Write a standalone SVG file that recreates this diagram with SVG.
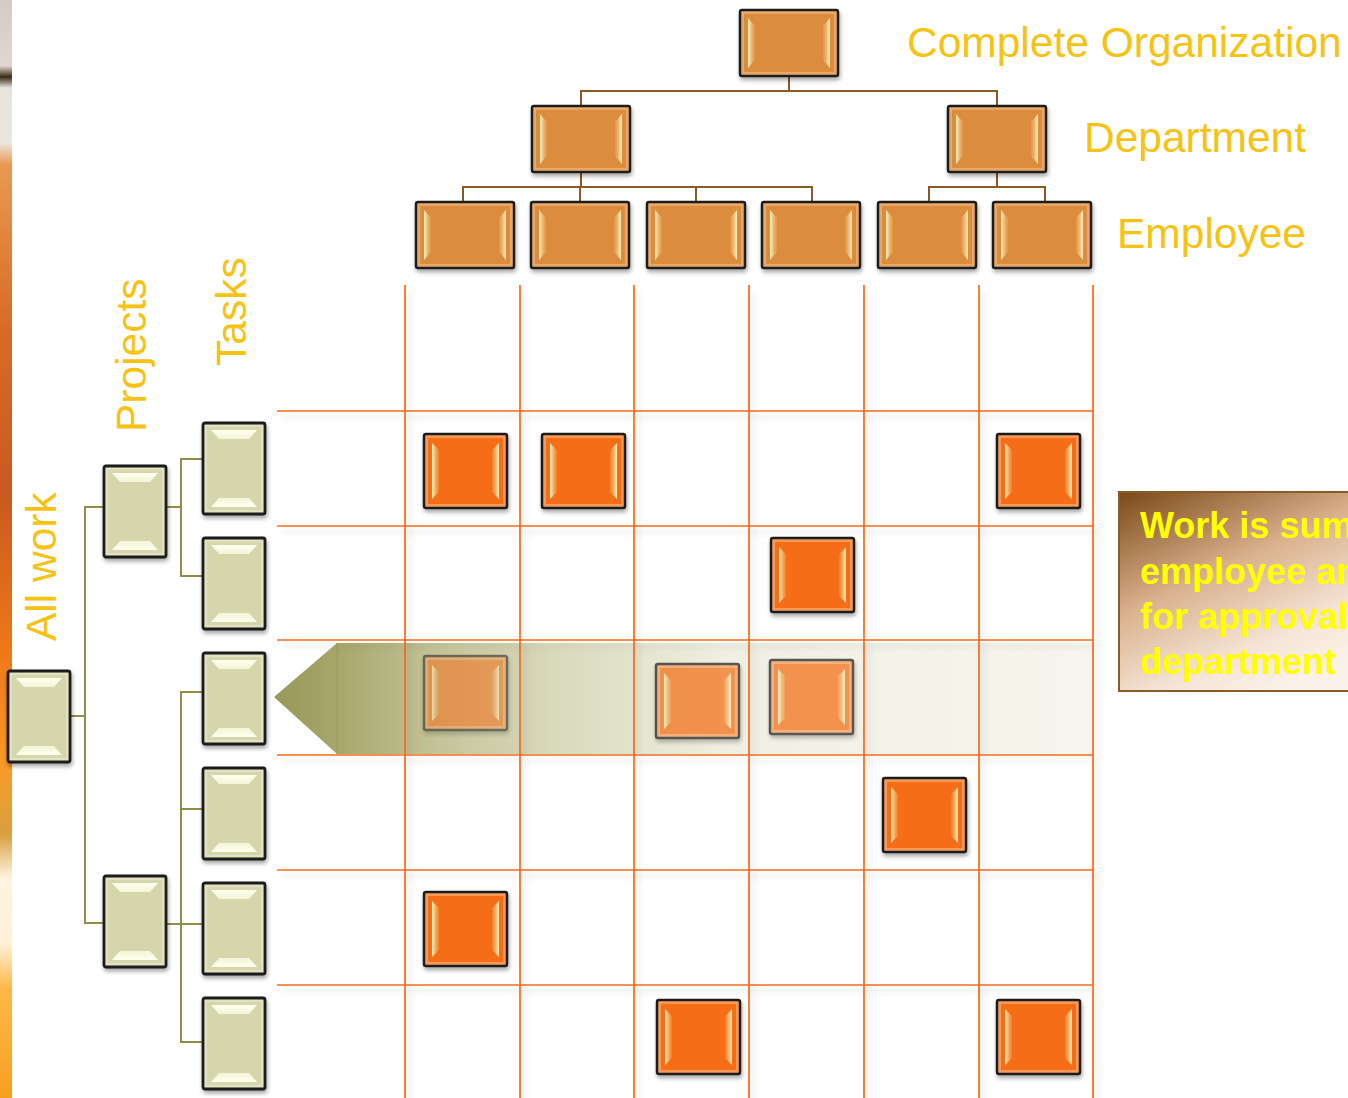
<svg xmlns="http://www.w3.org/2000/svg" width="1348" height="1098" viewBox="0 0 1348 1098">
<defs>
  <style>
    .lbl{font-family:"Liberation Sans",Arial,sans-serif;font-size:42.5px;fill:#f6c214}
    .call{font-family:"Liberation Sans",Arial,sans-serif;font-size:36px;font-weight:bold;fill:#ffff00}
    .grid line{stroke:#f26a1b;stroke-width:1.7}
    .org{stroke:#8b5a24;stroke-width:2;fill:none}
    .wbs{stroke:#8e8e48;stroke-width:2;fill:none}
  </style>
  <filter id="sh" x="-20%" y="-20%" width="140%" height="140%">
    <feGaussianBlur in="SourceAlpha" stdDeviation="2"/>
    <feOffset dx="1" dy="3" result="o"/>
    <feComponentTransfer><feFuncA type="linear" slope="0.35"/></feComponentTransfer>
    <feMerge><feMergeNode/><feMergeNode in="SourceGraphic"/></feMerge>
  </filter>
  <filter id="lsh" x="-5%" y="-5%" width="110%" height="110%">
    <feGaussianBlur in="SourceAlpha" stdDeviation="3"/>
    <feOffset dx="4" dy="6" result="o"/>
    <feComponentTransfer><feFuncA type="linear" slope="0.16"/></feComponentTransfer>
    <feMerge><feMergeNode/><feMergeNode in="SourceGraphic"/></feMerge>
  </filter>
  <linearGradient id="hlL" x1="0" y1="0" x2="1" y2="0">
    <stop offset="0" stop-color="#fff6c0"/><stop offset="1" stop-color="#f0b060" stop-opacity="0.3"/>
  </linearGradient>
  <linearGradient id="hlR" x1="1" y1="0" x2="0" y2="0">
    <stop offset="0" stop-color="#fff6c0"/><stop offset="1" stop-color="#f0b060" stop-opacity="0.3"/>
  </linearGradient>
  <linearGradient id="hlT" x1="0" y1="0" x2="0" y2="1">
    <stop offset="0" stop-color="#ffffee"/><stop offset="1" stop-color="#f4f4d8"/>
  </linearGradient>
  <linearGradient id="hlB" x1="0" y1="1" x2="0" y2="0">
    <stop offset="0" stop-color="#ffffee"/><stop offset="1" stop-color="#f4f4d8"/>
  </linearGradient>
  <linearGradient id="band" x1="274" y1="0" x2="1093" y2="0" gradientUnits="userSpaceOnUse">
    <stop offset="0" stop-color="#98985a"/>
    <stop offset="0.08" stop-color="#a7a76c"/>
    <stop offset="0.2" stop-color="#c4c49a"/>
    <stop offset="0.35" stop-color="#dadabd"/>
    <stop offset="0.55" stop-color="#efefe2"/>
    <stop offset="1" stop-color="#f6f6ee"/>
  </linearGradient>
  <linearGradient id="callg" x1="0" y1="0" x2="0.6" y2="1">
    <stop offset="0" stop-color="#7a4816"/>
    <stop offset="0.45" stop-color="#d9b08c"/>
    <stop offset="0.8" stop-color="#f5e4d6"/>
    <stop offset="1" stop-color="#fbf1e8"/>
  </linearGradient>
  <linearGradient id="strip" x1="0" y1="0" x2="0" y2="1">
    <stop offset="0" stop-color="#d4ccc4"/>
    <stop offset="0.06" stop-color="#e0d8d0"/>
    <stop offset="0.07" stop-color="#3a2a18"/>
    <stop offset="0.08" stop-color="#e8e2dc"/>
    <stop offset="0.13" stop-color="#ece6e0"/>
    <stop offset="0.15" stop-color="#e89a50"/>
    <stop offset="0.3" stop-color="#d86a28"/>
    <stop offset="0.45" stop-color="#c85a20"/>
    <stop offset="0.6" stop-color="#f07a18"/>
    <stop offset="0.7" stop-color="#f89a28"/>
    <stop offset="0.76" stop-color="#d8a040"/>
    <stop offset="0.8" stop-color="#fff4e0"/>
    <stop offset="0.86" stop-color="#fff0d8"/>
    <stop offset="0.9" stop-color="#ffb848"/>
    <stop offset="1" stop-color="#f5a020"/>
  </linearGradient>
  <clipPath id="cvs"><rect x="0" y="0" width="1348" height="1098"/></clipPath>

  <symbol id="orgBox" width="100" height="68" viewBox="0 0 100 68" overflow="visible">
    <rect x="1" y="1" width="98" height="66" rx="2" fill="#eaa868" stroke="#1c1c1c" stroke-width="2.5"/>
    <rect x="5" y="5" width="90" height="58" fill="#dc8c3e"/>
    <polygon points="9,9 16,17 16,51 9,59" fill="url(#hlL)"/>
    <polygon points="91,9 84,17 84,51 91,59" fill="url(#hlR)"/>
  </symbol>
  <symbol id="cell" width="85" height="76" viewBox="0 0 85 76" overflow="visible">
    <rect x="1" y="1" width="83" height="74" rx="2" fill="#f99a58" stroke="#1c1c1c" stroke-width="2.5"/>
    <rect x="5" y="5" width="75" height="66" fill="#f56d13"/>
    <polygon points="9,10 16,17 16,59 9,66" fill="url(#hlL)"/>
    <polygon points="76,10 69,17 69,59 76,66" fill="url(#hlR)"/>
  </symbol>
  <symbol id="task" width="64" height="93" viewBox="0 0 64 93" overflow="visible">
    <rect x="1" y="1" width="62" height="91" rx="2" fill="#e2e2c2" stroke="#1c1c1c" stroke-width="2.8"/>
    <rect x="5" y="5" width="54" height="83" fill="#d6d6ac"/>
    <polygon points="9,8 55,8 47,17 17,17" fill="url(#hlT)"/>
    <polygon points="17,76 47,76 55,85 9,85" fill="url(#hlB)"/>
  </symbol>
</defs>

<rect x="0" y="0" width="1348" height="1098" fill="#ffffff"/>
<rect x="0" y="0" width="12" height="1098" fill="url(#strip)"/>

<!-- highlight band -->
<g id="highlight">
  <polygon points="274,697 337,643 1093,643 1093,754 337,754" fill="url(#band)"/>
  <line x1="337" y1="643" x2="337" y2="754" stroke="#9a9a5e" stroke-width="1"/>
</g>

<!-- grid -->
<g id="grid" class="grid" filter="url(#lsh)">
  <line x1="405" y1="285" x2="405" y2="1098"/>
  <line x1="520" y1="285" x2="520" y2="1098"/>
  <line x1="634" y1="285" x2="634" y2="1098"/>
  <line x1="749" y1="285" x2="749" y2="1098"/>
  <line x1="864" y1="285" x2="864" y2="1098"/>
  <line x1="979" y1="285" x2="979" y2="1098"/>
  <line x1="1093" y1="285" x2="1093" y2="1098"/>
  <line x1="277" y1="411" x2="1093" y2="411"/>
  <line x1="277" y1="526" x2="1093" y2="526"/>
  <line x1="277" y1="640" x2="1093" y2="640"/>
  <line x1="277" y1="755" x2="1093" y2="755"/>
  <line x1="277" y1="870" x2="1093" y2="870"/>
  <line x1="277" y1="985" x2="1093" y2="985"/>
</g>

<!-- connectors -->
<g id="connectors">
  <path class="org" d="M789,76 V91 M581,106 V91 H997 V106"/>
  <path class="org" d="M581,172 V187 M463,202 V187 H812 V202 M580,187 V202 M696,187 V202"/>
  <path class="org" d="M997,172 V187 M929,202 V187 H1045 V202"/>
  <path class="wbs" d="M70,716 H85 M104,507 H85 V923 H104"/>
  <path class="wbs" d="M166,507 H181 M203,459 H181 V576 H203"/>
  <path class="wbs" d="M166,924 H203 M203,692 H181 V1042 H203 M181,809 H203"/>
</g>

<!-- org chart nodes -->
<g id="org-top" filter="url(#sh)"><use href="#orgBox" x="739" y="9"/></g>
<g id="dept-1" filter="url(#sh)"><use href="#orgBox" x="531" y="105"/></g>
<g id="dept-2" filter="url(#sh)"><use href="#orgBox" x="947" y="105"/></g>
<g id="emp-1" filter="url(#sh)"><use href="#orgBox" x="415" y="201"/></g>
<g id="emp-2" filter="url(#sh)"><use href="#orgBox" x="530" y="201"/></g>
<g id="emp-3" filter="url(#sh)"><use href="#orgBox" x="646" y="201"/></g>
<g id="emp-4" filter="url(#sh)"><use href="#orgBox" x="761" y="201"/></g>
<g id="emp-5" filter="url(#sh)"><use href="#orgBox" x="877" y="201"/></g>
<g id="emp-6" filter="url(#sh)"><use href="#orgBox" x="992" y="201"/></g>

<!-- WBS nodes -->
<g id="all-work" filter="url(#sh)"><use href="#task" x="7" y="670"/></g>
<g id="project-1" filter="url(#sh)"><use href="#task" x="103" y="465"/></g>
<g id="project-2" filter="url(#sh)"><use href="#task" x="103" y="875"/></g>
<g id="task-1" filter="url(#sh)"><use href="#task" x="202" y="422"/></g>
<g id="task-2" filter="url(#sh)"><use href="#task" x="202" y="537"/></g>
<g id="task-3" filter="url(#sh)"><use href="#task" x="202" y="652"/></g>
<g id="task-4" filter="url(#sh)"><use href="#task" x="202" y="767"/></g>
<g id="task-5" filter="url(#sh)"><use href="#task" x="202" y="882"/></g>
<g id="task-6" filter="url(#sh)"><use href="#task" x="202" y="997"/></g>

<!-- matrix cells -->
<g id="cell-1-1" filter="url(#sh)"><use href="#cell" x="423" y="433"/></g>
<g id="cell-1-2" filter="url(#sh)"><use href="#cell" x="541" y="433"/></g>
<g id="cell-1-7" filter="url(#sh)"><use href="#cell" x="996" y="433"/></g>
<g id="cell-2-4" filter="url(#sh)"><use href="#cell" x="770" y="537"/></g>
<g id="cell-3-1" filter="url(#sh)" opacity="0.55"><use href="#cell" x="423" y="655"/></g>
<g id="cell-3-3" filter="url(#sh)" opacity="0.72"><use href="#cell" x="655" y="663"/></g>
<g id="cell-3-4" filter="url(#sh)" opacity="0.72"><use href="#cell" x="769" y="659"/></g>
<g id="cell-4-5" filter="url(#sh)"><use href="#cell" x="882" y="777"/></g>
<g id="cell-5-1" filter="url(#sh)"><use href="#cell" x="423" y="891"/></g>
<g id="cell-6-3" filter="url(#sh)"><use href="#cell" x="656" y="999"/></g>
<g id="cell-6-7" filter="url(#sh)"><use href="#cell" x="996" y="999"/></g>

<!-- labels -->
<g id="labels">
  <text class="lbl" x="907" y="57">Complete Organization</text>
  <text class="lbl" x="1084" y="152">Department</text>
  <text class="lbl" x="1117" y="248">Employee</text>
  <text class="lbl" transform="translate(56,641) rotate(-90)">All work</text>
  <text class="lbl" transform="translate(146,432) rotate(-90)">Projects</text>
  <text class="lbl" transform="translate(246,366) rotate(-90)">Tasks</text>
</g>

<!-- callout (cut off at the right edge, as in the reference) -->
<g id="callout" clip-path="url(#cvs)">
  <rect x="1119" y="492" width="260" height="199" fill="url(#callg)" stroke="#8a5a2a" stroke-width="2"/>
  <text class="call" x="1140" y="538">Work is summed</text>
  <text class="call" x="1140" y="584">employee and</text>
  <text class="call" x="1140" y="629">for approval</text>
  <text class="call" x="1140" y="674">department</text>
</g>
</svg>
